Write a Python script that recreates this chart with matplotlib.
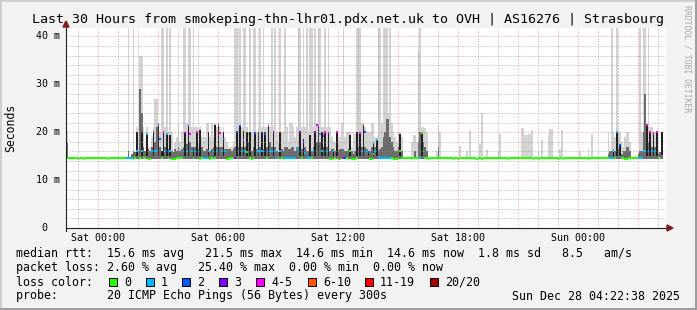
import matplotlib
matplotlib.use("Agg")
import matplotlib.pyplot as plt
from matplotlib.patches import Rectangle, Polygon

MONO = "DejaVu Sans Mono"

# time axis in hours relative to Sat 00:00; window = 30 h ending Sun 04:22:38
T_START = -1.6228
T_SPAN = 30.0
STEP_H = 5 / 60        # one probe every 300 s
N_STEPS = 358          # last couple of steps are not in the rrd yet
BASE_MS = 14.6         # median rtt on quiet steps
SMOKE_FLOOR = 14.5     # fastest ping
DARK_FLOOR = 15.0

x_ticks = [0, 6, 12, 18, 24]
x_labels = ["Sat 00:00", "Sat 06:00", "Sat 12:00", "Sat 18:00", "Sun 00:00"]
y_ticks = [0, 10, 20, 30, 40]
y_labels = ["0  ", "10 m", "20 m", "30 m", "40 m"]

loss_labels = ["0", "1", "2", "3", "4-5", "6-10", "11-19", "20/20"]
loss_colors = ["#26ff00", "#00b8ff", "#0059ff", "#7e00ff", "#ff00ff", "#ff5500", "#ff0000", "#a10000"]
loss_bins = [0, 1, 2, 3, 4, 6, 11, 20]

# median rtt (ms) where it differs from BASE_MS, by step
median_ms = {7: 14.4, 10: 14.4, 25: 14.4,
    40: 14.5, 42: 16.1, 43: 14.5, 45: 16.1, 48: 19.7, 49: 14.5, 50: 14.5, 51: 16.1, 52: 20.0,
    53: 16.0, 54: 16.1, 55: 21.4, 56: 18.6, 58: 20.0, 59: 16.1, 60: 19.6, 62: 16.1, 63: 14.5,
    64: 14.5, 65: 14.5, 68: 14.7, 70: 16.1, 71: 19.8, 72: 16.1, 73: 21.3, 74: 19.7, 75: 16.1,
    77: 16.1, 78: 20.0, 79: 16.1, 80: 14.5, 85: 16.1, 86: 14.5, 88: 16.1, 90: 16.1, 91: 21.4,
    92: 19.8, 93: 16.1, 94: 18.5, 95: 16.1, 96: 14.5, 97: 14.5, 101: 14.7, 102: 20.0, 103: 16.1,
    104: 21.2, 105: 16.1, 106: 18.3, 107: 16.1, 108: 15.8, 109: 19.6, 111: 14.5, 113: 19.8,
    114: 16.1, 115: 16.1, 116: 16.1, 117: 16.1, 118: 16.0, 119: 19.7, 121: 21.2, 122: 16.1,
    123: 16.1, 124: 20.0, 125: 16.0, 128: 16.1, 130: 14.5, 138: 16.4, 139: 16.1, 140: 20.0,
    142: 18.0, 143: 15.7, 148: 16.1, 149: 20.1, 150: 21.4, 151: 21.2, 152: 19.6, 153: 16.1,
    154: 19.3, 155: 20.0, 156: 16.1, 157: 19.8, 158: 14.5, 159: 14.5, 160: 16.1, 162: 20.0,
    163: 14.5, 164: 14.5, 165: 14.7, 166: 14.7, 167: 14.7, 169: 14.5, 170: 16.0, 171: 14.5,
    172: 14.5, 173: 14.5, 175: 16.0, 176: 19.8, 177: 16.1, 178: 21.5, 179: 20.0, 180: 16.1,
    181: 15.8, 182: 14.5, 183: 14.5, 184: 15.5, 185: 16.1, 186: 18.3, 196: 14.5, 197: 14.5,
    198: 14.5, 200: 16.0, 213: 19.8, 214: 16.0, 217: 14.4, 232: 14.4, 235: 14.4, 246: 14.4,
    249: 14.4, 265: 14.4, 280: 14.4, 283: 14.4, 295: 14.4, 298: 14.4, 313: 14.4,
    328: 16.0, 330: 20.0, 331: 15.3, 332: 17.3, 335: 14.5, 336: 14.5, 346: 16.1, 347: 16.1,
    348: 21.4, 349: 16.1, 350: 20.0, 351: 16.1, 352: 19.8, 353: 16.1, 354: 20.0, 357: 15.0}

# lost pings out of 20, by step (0 where missing)
loss_pings = {36: 1, 37: 1, 38: 1, 39: 1, 42: 1, 45: 1, 48: 1, 51: 1, 52: 2, 53: 1, 54: 1,
    55: 2, 56: 2, 58: 4, 59: 1, 60: 1, 62: 1, 70: 1, 71: 3, 72: 1, 73: 2, 74: 4, 75: 1, 77: 1,
    78: 4, 79: 1, 82: 1, 83: 1, 84: 1, 85: 1, 88: 1, 90: 1, 91: 4, 92: 4, 93: 1, 94: 2, 95: 1,
    101: 3, 102: 2, 103: 1, 104: 2, 105: 1, 106: 4, 107: 1, 113: 2, 114: 1, 115: 1, 116: 1,
    117: 1, 118: 1, 119: 2, 121: 4, 122: 1, 123: 1, 124: 3, 125: 1, 126: 1, 128: 1, 131: 1,
    132: 1, 133: 1, 134: 1, 135: 1, 136: 1, 137: 1, 138: 1, 139: 1, 140: 3, 142: 3, 143: 1,
    144: 1, 145: 1, 146: 1, 148: 1, 149: 3, 150: 4, 151: 4, 152: 1, 153: 1, 154: 4, 155: 4,
    156: 1, 157: 3, 160: 1, 162: 4, 165: 4, 166: 2, 167: 2, 175: 4, 176: 4, 177: 1, 178: 7,
    179: 2, 180: 1, 181: 2, 185: 1, 186: 1, 187: 1, 188: 1, 189: 1, 190: 1, 191: 1, 192: 1,
    193: 1, 194: 1, 212: 1, 326: 1, 327: 1, 328: 1, 330: 1, 331: 1, 332: 2, 343: 1, 344: 1,
    345: 1, 346: 1, 347: 1, 348: 4, 349: 1, 350: 4, 351: 1, 352: 4, 353: 1, 354: 4, 357: 4}

# top of the dense (dark) smoke, ms
dark_ms = {42: 20.0, 45: 20.0, 48: 19.7, 52: 20.0, 55: 21.4, 57: 16.0, 58: 20.0, 60: 19.6,
    62: 19.4, 71: 19.8, 73: 21.4, 76: 16.5, 78: 20.0, 80: 20.4, 85: 20.0, 89: 21.4, 91: 21.4,
    94: 20.0, 102: 20.0, 104: 21.4, 106: 20.3, 108: 20.0, 110: 20.0, 113: 20.0, 115: 20.0,
    117: 20.0, 119: 20.0, 121: 21.4, 124: 20.0, 128: 20.0, 140: 20.0, 142: 18.5, 146: 19.4,
    149: 20.0, 151: 21.4, 153: 20.0, 155: 20.0, 157: 20.0, 160: 16.0, 162: 20.0, 170: 19.4,
    174: 20.0, 176: 20.0, 178: 21.5, 181: 16.0, 184: 17.5, 186: 18.3, 200: 19.6, 213: 20.0,
    328: 16.0, 330: 20.0, 332: 17.3, 348: 21.5, 350: 20.0, 352: 20.0, 354: 20.0, 357: 20.0}

# top of the medium grey smoke, ms
mid_ms = {0: 17.8, 37: 16, 39: 15.5, 40: 16, 41: 15.8, 42: 16.5, 43: 16, 44: 29, 45: 24,
    46: 17, 47: 16, 48: 17, 49: 16.5, 50: 16, 51: 17, 52: 17, 53: 18, 54: 21, 55: 19, 56: 17,
    57: 16, 58: 18, 59: 17, 60: 17, 61: 16.5, 62: 17, 63: 16, 64: 15.8, 65: 16.5, 66: 16,
    67: 17, 68: 16, 69: 16.5, 70: 17, 71: 18, 72: 17.5, 73: 19, 74: 18, 75: 17, 76: 17,
    77: 17, 78: 18, 79: 16.5, 80: 18, 81: 17, 82: 16, 83: 16, 84: 16.5, 85: 17, 86: 16,
    87: 16.5, 88: 17, 89: 18, 90: 17, 91: 19, 92: 17, 93: 17, 94: 17.5, 95: 16.5, 96: 16.5,
    97: 16.5, 98: 16.5, 99: 16, 100: 16.5, 101: 17, 102: 18, 103: 17, 104: 18, 105: 17,
    106: 17.5, 107: 17, 108: 17, 109: 18, 110: 17, 111: 16, 112: 17, 113: 17, 114: 16.5,
    115: 17, 116: 17, 117: 17, 118: 16.5, 119: 17, 120: 17, 121: 19, 122: 18, 123: 17,
    124: 17, 125: 17, 126: 16, 127: 15.8, 128: 17, 129: 16.5, 130: 16, 131: 17, 132: 17,
    133: 16.5, 134: 16.5, 135: 17, 136: 17, 137: 16, 138: 17, 139: 17, 140: 18, 141: 16.5,
    142: 17, 143: 17, 144: 16, 145: 16, 146: 17, 147: 16, 148: 17, 149: 18, 150: 18, 151: 18,
    152: 18, 153: 17, 154: 17, 155: 17, 156: 17, 157: 17, 158: 16, 159: 16.5, 160: 16.5,
    161: 16, 162: 17, 163: 16, 164: 16.5, 165: 16.5, 166: 16.5, 167: 16, 168: 16, 169: 16.5,
    170: 17, 171: 16, 172: 15.5, 173: 16, 174: 17, 175: 17, 176: 17, 177: 17, 178: 18,
    179: 17, 180: 16.5, 181: 16, 182: 16, 183: 17, 184: 18, 185: 17, 186: 17, 187: 16,
    188: 16.5, 189: 17, 190: 19, 191: 20, 192: 22.7, 193: 22.7, 194: 19, 195: 18, 196: 17,
    197: 16, 198: 16, 199: 17, 200: 17, 201: 16, 209: 16, 211: 18, 212: 20, 213: 18,
    214: 18, 215: 17, 216: 16, 223: 17, 325: 15.5, 326: 16, 327: 16, 328: 16.5, 329: 16,
    330: 17, 331: 16.5, 332: 16.5, 333: 15.5, 334: 16, 335: 16, 336: 17, 337: 17, 338: 16,
    343: 15.5, 344: 16, 345: 16, 346: 20, 347: 28, 348: 20, 349: 18, 350: 18, 351: 17,
    352: 17, 353: 17, 354: 17, 355: 15.5, 356: 15.8, 357: 16}

# slowest ping (light grey smoke), ms; 45 = off the top of the graph
top_ms = {0: 20.2, 37: 45, 40: 45, 42: 21, 44: 36, 45: 36, 46: 21, 48: 21, 50: 17, 51: 19,
    52: 21, 53: 27, 54: 27, 55: 22, 56: 20, 57: 45, 58: 45, 59: 21, 60: 45, 61: 20, 62: 45,
    63: 20, 65: 18, 66: 19, 67: 22, 68: 18, 69: 20, 70: 45, 71: 45, 72: 22, 73: 45, 74: 45,
    75: 21, 76: 45, 77: 21, 78: 21, 79: 18, 80: 21, 81: 19, 82: 20, 83: 19, 84: 22, 85: 22,
    86: 19, 87: 22, 88: 19, 89: 22, 90: 21, 91: 22, 92: 21, 93: 20, 94: 21, 95: 19, 96: 18,
    98: 17, 99: 17, 100: 18, 101: 45, 102: 45, 103: 21, 104: 45, 105: 21, 106: 45, 107: 45,
    108: 21, 109: 20, 110: 45, 111: 20, 112: 45, 113: 45, 114: 20, 115: 21, 116: 45, 117: 21,
    118: 45, 119: 21, 120: 21, 121: 22, 122: 21, 123: 45, 124: 21, 125: 45, 126: 20, 127: 18,
    128: 45, 129: 20, 130: 20, 131: 45, 132: 21, 133: 18, 134: 22, 135: 22, 136: 21, 137: 19,
    138: 21, 139: 45, 140: 45, 141: 21, 142: 45, 143: 21, 144: 45, 145: 20, 146: 45, 147: 45,
    148: 21, 149: 45, 150: 22, 151: 45, 152: 45, 153: 21, 154: 21, 155: 45, 156: 21, 157: 45,
    158: 21, 159: 19, 160: 18, 161: 18, 162: 20, 163: 18, 164: 19, 165: 22, 166: 45, 167: 19,
    168: 20, 169: 20, 170: 20, 171: 17, 172: 20, 173: 19.6, 174: 45, 175: 45, 176: 45,
    177: 22, 178: 22, 179: 21, 180: 20, 181: 20, 182: 20, 183: 22, 184: 22, 185: 19, 186: 19,
    187: 45, 188: 45, 189: 22, 190: 45, 191: 45, 192: 45, 193: 24, 194: 45, 195: 22, 196: 20,
    197: 19, 198: 18, 199: 20, 200: 20, 201: 19, 207: 18, 208: 19.5, 209: 19.5, 210: 18,
    211: 37, 212: 45, 213: 21, 214: 21, 215: 20.8, 216: 20, 222: 16, 223: 21.4, 224: 20,
    236: 17.2, 240: 16, 242: 20.4, 248: 17.5, 249: 24, 252: 16.2, 259: 16, 260: 19.6,
    273: 20.9, 274: 20.9, 275: 19.4, 276: 19.4, 277: 19.6, 278: 19.6, 279: 20.4, 283: 16,
    285: 18.3, 289: 19.4, 290: 20.6, 291: 20.6, 296: 16.5, 297: 20.4, 308: 16, 313: 16.5,
    315: 19.6, 325: 20, 327: 45, 328: 20, 329: 19, 330: 45, 331: 20, 332: 20, 333: 18,
    334: 17, 335: 19, 336: 20, 337: 20, 338: 18, 344: 45, 345: 20, 346: 45, 347: 45,
    348: 22, 349: 45, 350: 21, 351: 21, 352: 20, 353: 20, 354: 20, 355: 16, 357: 20}

W, H = 697, 310


def fx(x):
    return x / W


def fy(y):
    return 1 - y / H


def step_time(s):
    return T_START + s * STEP_H


def loss_color(n):
    idx = 0
    for i, b in enumerate(loss_bins):
        if n >= b:
            idx = i
    return loss_colors[idx]


fig = plt.figure(figsize=(W / 100, H / 100), dpi=100)
fig.patch.set_facecolor("#f2f2f2")
ax = fig.add_axes([fx(66), 82 / H, 600 / W, 200 / H])
ax.set_facecolor("white")
for sp in ax.spines.values():
    sp.set_visible(False)
ax.set_xticks([])
ax.set_yticks([])
ax.set_xlim(T_START, T_START + T_SPAN)
ax.set_ylim(0, 41.75)

# smoke
for vals, color, floor in [(top_ms, "#d3d3d3", SMOKE_FLOOR),
                           (mid_ms, "#6c6c6c", SMOKE_FLOOR),
                           (dark_ms, "#202020", DARK_FLOOR)]:
    xs = [step_time(s) for s in vals]
    hs = [v - floor for v in vals.values()]
    ax.bar(xs, hs, bottom=floor, width=STEP_H, align="edge", color=color,
           linewidth=0, antialiased=False, zorder=2)

# median line coloured by loss
meds = [median_ms.get(s, BASE_MS) for s in range(N_STEPS)]
cols = [loss_color(loss_pings.get(s, 0)) for s in range(N_STEPS)]
ax.hlines(meds, [step_time(s) for s in range(N_STEPS)],
          [step_time(s + 1) for s in range(N_STEPS)], colors=cols, linewidth=1.5, zorder=3)

# grid (drawn over the data like rrdtool does)
minor_c = (0.56, 0.56, 0.56, 0.75)
major_c = (0.87, 0.31, 0.31, 0.60)
for h in range(-1, 29):
    ax.axvline(h, color=major_c if h % 3 == 0 else minor_c, lw=0.72,
               ls=(0, (1, 2)), snap=True, zorder=4)
for v in range(2, 42, 2):
    ax.axhline(v, color=major_c if v % 10 == 0 else minor_c, lw=0.72,
               ls=(0, (1, 2)), snap=True, zorder=4)

# axes with arrows
axis_c = "#1f1f1f"
arrow_c = "#801f1f"
ax.plot([0, 0], [-3 / 200, 1 + 4 / 200], transform=ax.transAxes, color=axis_c,
        lw=0.8, clip_on=False, zorder=5)
ax.plot([0, 1 + 2 / 600], [0, 0], transform=ax.transAxes, color=axis_c,
        lw=0.8, clip_on=False, zorder=5)
ax.add_patch(Polygon([(-3 / 600, 1 + 1 / 200), (3 / 600, 1 + 1 / 200), (0, 1 + 7 / 200)],
                     closed=True, transform=ax.transAxes, color=arrow_c, clip_on=False, zorder=6))
ax.add_patch(Polygon([(1 + 1 / 600, -3 / 200), (1 + 1 / 600, 3 / 200), (1 + 7 / 600, 0)],
                     closed=True, transform=ax.transAxes, color=arrow_c, clip_on=False, zorder=6))

for h, lab in zip(x_ticks, x_labels):
    ax.text(h, -10 / 200, lab, transform=ax.get_xaxis_transform(), ha="center",
            va="center", fontsize=7.2, family=MONO)
for v, lab in zip(y_ticks, y_labels):
    ax.text(-6 / 600, v, lab, transform=ax.get_yaxis_transform(), ha="right",
            va="center", fontsize=7.2, family=MONO)

# titles
fig.text(fx(348), fy(19.5), "Last 30 Hours from smokeping-thn-lhr01.pdx.net.uk to OVH | AS16276 | Strasbourg",
         ha="center", va="center", fontsize=9.6, family=MONO)
fig.text(fx(10.8), fy(127.7), "Seconds", rotation=90, ha="center", va="center",
         fontsize=8.3, family=MONO)
fig.text(fx(687), fy(5), "RRDTOOL / TOBI OETIKER", rotation=270, ha="center", va="top",
         fontsize=5.9, family=MONO, color="#a8a8a8")

# legend
fs = 8.35
fig.text(fx(16), fy(254), "median rtt:  15.6 ms avg   21.5 ms max  14.6 ms min  14.6 ms now  1.8 ms sd   8.5   am/s",
         va="center", fontsize=fs, family=MONO)
fig.text(fx(16), fy(268), "packet loss: 2.60 % avg   25.40 % max  0.00 % min  0.00 % now",
         va="center", fontsize=fs, family=MONO)
fig.text(fx(16), fy(282), "loss color:", va="center", fontsize=fs, family=MONO)
box_x = [109, 146, 182, 219, 256, 308, 365, 430]
for bx, c, lab in zip(box_x, loss_colors, loss_labels):
    fig.add_artist(Rectangle((fx(bx), fy(286)), 8 / W, 8 / H, transform=fig.transFigure,
                             facecolor=c, edgecolor="black", linewidth=0.7))
    fig.text(fx(bx + 15), fy(282), lab, va="center", fontsize=fs, family=MONO)
fig.text(fx(16), fy(296), "probe:       20 ICMP Echo Pings (56 Bytes) every 300s",
         va="center", fontsize=fs, family=MONO)
fig.text(fx(680), fy(296), "Sun Dec 28 04:22:38 2025", ha="right", va="center",
         fontsize=fs, family=MONO)

# 3d frame around the image
fig.add_artist(Rectangle((0, 1 - 2 / H), 1, 2 / H, transform=fig.transFigure, color="#cfcfcf", lw=0))
fig.add_artist(Rectangle((0, 0), 2 / W, 1, transform=fig.transFigure, color="#cfcfcf", lw=0))
fig.add_artist(Rectangle((0, 0), 1, 2 / H, transform=fig.transFigure, color="#9e9e9e", lw=0))
fig.add_artist(Rectangle((1 - 2 / W, 0), 2 / W, 1, transform=fig.transFigure, color="#9e9e9e", lw=0))

fig.savefig("out.png", dpi=100, facecolor=fig.get_facecolor())
